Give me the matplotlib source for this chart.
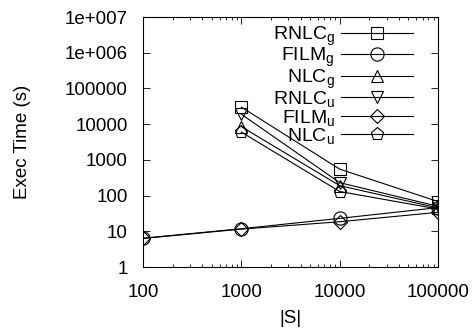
import numpy as np
import matplotlib
matplotlib.use("Agg")
import matplotlib.pyplot as plt
from matplotlib.ticker import LogLocator, FixedLocator, FixedFormatter, NullFormatter

plt.rcParams['font.family'] = ['Liberation Sans', 'DejaVu Sans']
plt.rcParams['mathtext.fontset'] = 'custom'
plt.rcParams['mathtext.rm'] = 'Liberation Sans'
plt.rcParams['mathtext.it'] = 'Liberation Sans'

sizes = [100, 1000, 10000, 100000]
series_labels = [r'RNLC$_\mathrm{g}$', r'FILM$_\mathrm{g}$', r'NLC$_\mathrm{g}$',
                 r'RNLC$_\mathrm{u}$', r'FILM$_\mathrm{u}$', r'NLC$_\mathrm{u}$']
rnlc_g = [np.nan, 30000, 550, 68]
film_g = [6.4, 11.8, 23, 46]
nlc_g = [np.nan, 8500, 190, 45]
rnlc_u = [np.nan, 19000, 230, 50]
film_u = [6.3, 11.5, 18.5, 34]
nlc_u = [np.nan, 6000, 130, 42]
markers = ['s', 'o', '^', 'v', 'D', 'p']
yticks = [1, 10, 100, 1000, 10000, 100000, 1e6, 1e7]
ytick_labels = ['1', '10', '100', '1000', '10000', '100000', '1e+006', '1e+007']
xticks = [100, 1000, 10000, 100000]
xtick_labels = ['100', '1000', '10000', '100000']

fig = plt.figure(figsize=(4.76, 3.33), dpi=100)
ax = fig.add_axes([143/476, 1 - 267/333, (438-143)/476, (267-17)/333])

msizes = [9, 9.5, 9, 9, 7, 9.5]
for vals, lab, m, ms in zip([rnlc_g, film_g, nlc_g, rnlc_u, film_u, nlc_u], series_labels, markers, msizes):
    v = np.array(vals, dtype=float)
    mask = ~np.isnan(v)
    ax.plot(np.array(sizes)[mask], v[mask], color='black', lw=0.8, marker=m,
            markersize=ms, markerfacecolor='none', markeredgecolor='black',
            markeredgewidth=0.8, label=lab)

ax.set_xscale('log')
ax.set_yscale('log')
ax.set_xlim(100, 100000)
ax.set_ylim(1, 1e7)
ax.yaxis.set_major_locator(FixedLocator(yticks))
ax.yaxis.set_major_formatter(FixedFormatter(ytick_labels))
ax.xaxis.set_major_locator(FixedLocator(xticks))
ax.xaxis.set_major_formatter(FixedFormatter(xtick_labels))
ax.xaxis.set_minor_locator(LogLocator(base=10, subs=np.arange(2, 10)))
ax.yaxis.set_minor_locator(LogLocator(base=10, subs=np.arange(2, 10)))
ax.xaxis.set_minor_formatter(NullFormatter())
ax.yaxis.set_minor_formatter(NullFormatter())
ax.tick_params(which='both', direction='in', top=True, right=True, labelsize=13.5, width=0.6)
ax.tick_params(which='major', length=5)
ax.tick_params(axis='x', which='major', pad=12)
ax.tick_params(axis='y', which='major', pad=11)
ax.tick_params(which='minor', length=2.5)
for s in ax.spines.values():
    s.set_linewidth(0.8)

ax.set_xlabel('|S|', fontsize=13.5)
ax.set_ylabel('Exec Time (s)', fontsize=13.5)
ax.xaxis.set_label_coords(0.5, -0.172)
ax.yaxis.set_label_coords(-0.38, 0.5)

leg = ax.legend(loc='upper right', markerfirst=False, frameon=False, fontsize=14,
                handlelength=3.7, labelspacing=-0.08, handletextpad=0.3,
                bbox_to_anchor=(0.96, 1.025), borderaxespad=0.3)

fig.savefig('out.png', dpi=100)
